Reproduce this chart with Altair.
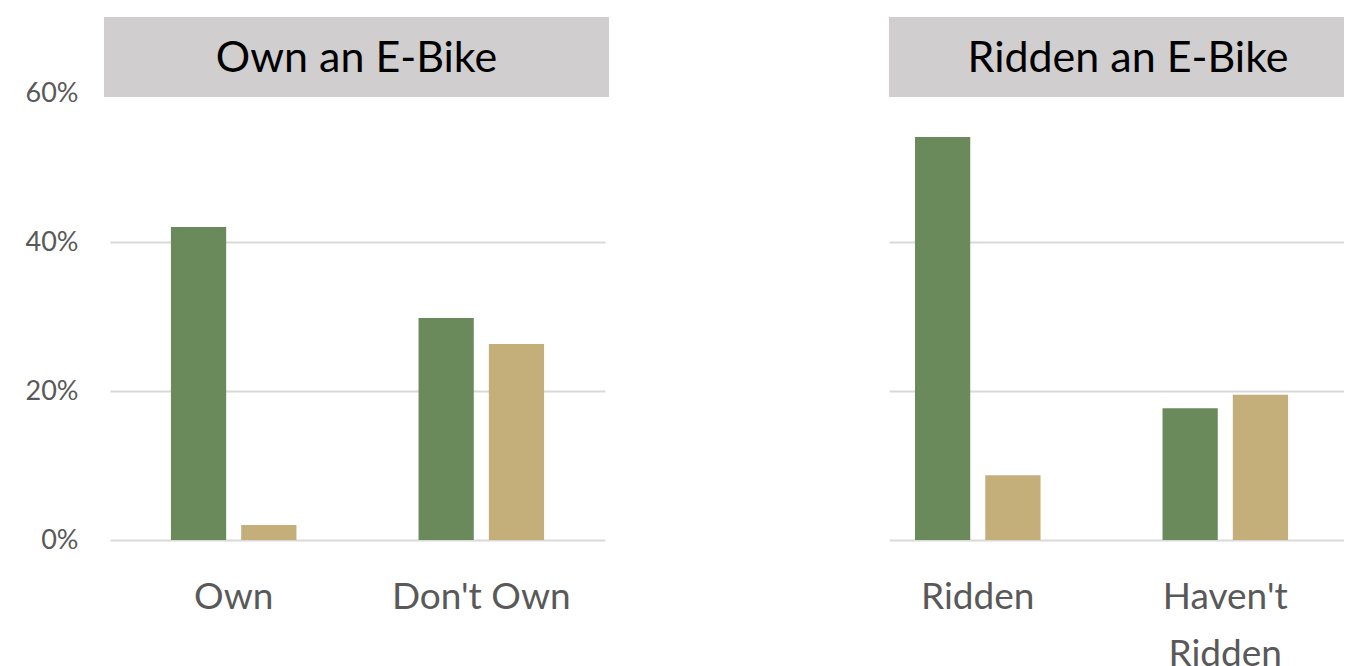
import altair as alt
import pandas as pd

# ---- data ----
own_categories = ["Own", "Don't Own"]
ridden_categories = ["Ridden", "Haven't Ridden"]
series_names = ["Series 1", "Series 2"]
own_series1 = [0.420, 0.298]
own_series2 = [0.020, 0.263]
ridden_series1 = [0.541, 0.177]
ridden_series2 = [0.087, 0.195]
panel_titles = ["Own an E-Bike", "Ridden an E-Bike"]
y_ticks = [0, 0.2, 0.4, 0.6]

GREEN = "#6B8A5B"
TAN = "#C4AF7A"
HEADER = "#D0CECF"
GRID = "#D9D9D9"
LABEL = "#595959"
FONT = "Lato"


def make_df(cats, s1, s2):
    rows = []
    for c, a, b in zip(cats, s1, s2):
        rows.append({"category": c, "series": series_names[0], "value": a})
        rows.append({"category": c, "series": series_names[1], "value": b})
    return pd.DataFrame(rows)


def panel(df, cats, title, width, pad_outer, align, show_labels,
          box_x, box_x2, title_x):
    x = alt.X(
        "category:N", sort=cats,
        scale=alt.Scale(paddingInner=0.493, paddingOuter=pad_outer, align=align),
        axis=alt.Axis(title=None, labelAngle=0, labelFont=FONT, labelFontSize=37,
                      labelColor=LABEL, labelPadding=39, ticks=False, domain=False,
                      labelLineHeight=57,
                      labelExpr="length(datum.label) > 10 ? split(datum.label, ' ') : datum.label"),
    )
    y_axis_kwargs = dict(values=y_ticks, format="%", title=None, grid=True,
                         gridColor=GRID, gridWidth=2, ticks=False, domain=False,
                         labels=show_labels)
    if show_labels:
        y_axis_kwargs.update(labelFont=FONT, labelFontSize=27, labelColor=LABEL,
                             labelPadding=32)
    else:
        y_axis_kwargs.update(minExtent=0, maxExtent=0, labelPadding=0)
    y = alt.Y("value:Q", scale=alt.Scale(domain=[0, 0.6], nice=False),
              axis=alt.Axis(**y_axis_kwargs))
    bars = alt.Chart(df).mark_bar().encode(
        x=x,
        xOffset=alt.XOffset("series:N", sort=series_names,
                            scale=alt.Scale(paddingInner=0.214, paddingOuter=0)),
        y=y,
        color=alt.Color("series:N", scale=alt.Scale(domain=series_names,
                                                    range=[GREEN, TAN]), legend=None),
    )
    tdf = pd.DataFrame({"title": [title]})
    box = alt.Chart(tdf).mark_rect(color=HEADER).encode(
        x=alt.value(box_x), x2=alt.value(box_x2), y=alt.value(-76), y2=alt.value(4)
    )
    text = alt.Chart(tdf).mark_text(font=FONT, fontSize=43, color="black",
                                    baseline="alphabetic", align="center").encode(
        text="title:N", x=alt.value(title_x), y=alt.value(-21)
    )
    return alt.layer(bars, box, text).properties(width=width, height=447)


left = panel(make_df(own_categories, own_series1, own_series2), own_categories,
             panel_titles[0], 495, 0.246, 0.5, True, -6, 499, 246.5)
right = panel(make_df(ridden_categories, ridden_series1, ridden_series2),
              ridden_categories, panel_titles[1], 455, 0.1656, 0.317, False,
              0, 455, 239)

chart = alt.hconcat(left, right, spacing=280).properties(
    padding={"top": 9, "left": 17, "right": 0, "bottom": 0}
).configure_view(strokeWidth=0).resolve_scale(color="independent")

chart.save("out.html", embed_options={"renderer": "svg", "actions": False})
